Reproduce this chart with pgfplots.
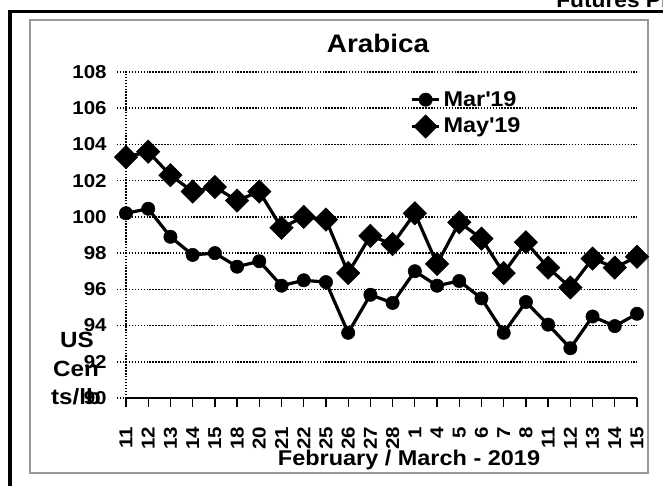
\documentclass[border=0pt]{standalone}
\usepackage{pgfplots}
\pgfplotsset{compat=1.18}
\usepackage{fontspec}
\setmainfont{Liberation Sans}[FakeStretch=1.1]
\pgfplotstableread{
x mar may
0 100.2 103.3
1 100.45 103.6
2 98.9 102.3
3 97.9 101.4
4 98.0 101.65
5 97.25 100.9
6 97.55 101.4
7 96.2 99.4
8 96.5 100.0
9 96.4 99.85
10 93.6 96.9
11 95.7 98.95
12 95.25 98.5
13 97.0 100.2
14 96.2 97.4
15 96.46 99.7
16 95.5 98.8
17 93.6 96.9
18 95.3 98.6
19 94.05 97.2
20 92.75 96.1
21 94.5 97.7
22 93.97 97.2
23 94.65 97.8
}\datatable
\begin{document}
\begin{tikzpicture}
\useasboundingbox (0,0) rectangle (497.25pt,363.75pt);
\clip (0,0) rectangle (497.25pt,363.75pt);
\begin{scope}[x=0.75pt,y=-0.75pt,shift={(0pt,363.75pt)}]
  \draw[line width=2.4pt] (10,11.5) rectangle (690,510);
  \draw[black!40, line width=1.5pt] (30,20) rectangle (648,473);
  \node[anchor=base west, inner sep=0pt, font=\fontsize{15.5}{17}\selectfont\bfseries] at (556,8) {Futures Prices};
  \node[font=\fontsize{19}{21}\selectfont\bfseries] at (378,43) {Arabica};
  \node[anchor=base, inner sep=0pt, font=\fontsize{16}{18}\selectfont\bfseries] at (409,465) {February / March - 2019};
  \node[anchor=base, inner sep=0pt, font=\fontsize{16.5}{18}\selectfont\bfseries] at (77,348) {US};
  \node[anchor=base, inner sep=0pt, font=\fontsize{16.5}{18}\selectfont\bfseries] at (76,377) {Cen};
  \node[anchor=base, inner sep=0pt, font=\fontsize{16.5}{18}\selectfont\bfseries] at (76,405) {ts/lb};
\end{scope}
\begin{axis}[
  width=383.25pt, height=244.5pt, scale only axis,
  at={(94.5pt,65.25pt)}, anchor=south west,
  xmin=0, xmax=23, ymin=90, ymax=108,
  axis x line*=bottom, axis y line*=left,
  x axis line style={line width=1.5pt, -},
  y axis line style={line width=1.1pt, dash pattern=on 1.1pt off 1.1pt, -},
  ytick={90,92,...,108},
  xtick={0,...,23},
  xticklabels={11,12,13,14,15,18,20,21,22,25,26,27,28,1,4,5,6,7,8,11,12,13,14,15},
  tick align=outside, major tick length=7pt,
  x tick style={black, line width=1pt},
  y tick style={black, line width=1.1pt, dash pattern=on 1.1pt off 1.1pt},
  ymajorgrids,
  grid style={black, line width=1.1pt, dash pattern=on 1.1pt off 1.1pt},
  ticklabel style={font=\fontsize{14}{16}\selectfont\bfseries},
  /pgf/number format/assume math mode=true,
  yticklabel style={xshift=-4pt},
  xticklabel style={yshift=-11pt, rotate=90, anchor=east},
  legend style={at={(0.556,0.95)}, anchor=north west, draw=none, fill=none,
    font=\fontsize{16}{18}\selectfont\bfseries, inner sep=0pt, row sep=3pt},
  legend cell align=left,
  legend image code/.code={\draw[mark repeat=2,mark phase=2,#1] plot coordinates {(0cm,0cm) (0.36cm,0cm) (0.72cm,0cm)};},
  clip=false,
]
\addplot[black, line width=2.4pt, mark=*, mark size=5pt, mark options={solid, line width=0.4pt}] table[x=x, y=mar] {\datatable};
\addlegendentry{Mar\textquotesingle 19}
\addplot[black, line width=2.4pt, mark=square*, mark size=6.2pt, mark options={solid, line width=0.4pt, rotate=45}] table[x=x, y=may] {\datatable};
\addlegendentry{May\textquotesingle 19}
\end{axis}
\end{tikzpicture}
\end{document}
